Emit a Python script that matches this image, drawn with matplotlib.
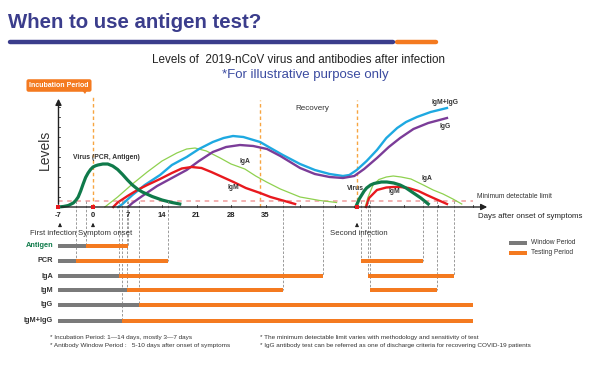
import numpy as np
import matplotlib.pyplot as plt

plt.rcParams['font.family'] = ['Liberation Sans', 'DejaVu Sans']

# colours
NAVY = '#3b3d8c'
ORANGE = '#f47a20'
GRAY = '#7a7a7a'
VIRUS = '#0f7a4a'
LGREEN = '#8fd14f'
BLUE = '#1ea9e1'
PURPLE = '#7b3c98'
RED = '#e8191e'
DASH_OR = '#f7a541'

# ---- curves (days after onset, arbitrary level) ----
virus1_d = [-7, -6, -5, -4, -3.5, -3, -2.5, -2, -1.5, -1, -0.5, 0, 0.5, 1, 2, 3, 4, 5, 6, 7, 8, 9, 10,
            12, 14, 16, 17.6]
virus1_l = [0, 0.05, 0.15, 0.4, 0.65, 1.0, 1.6, 2.3, 2.95, 3.4, 3.75, 4.0, 4.12, 4.2, 4.3, 4.3, 4.1, 3.75,
            3.25, 2.7, 2.2, 1.8, 1.5, 1.05, 0.7, 0.45, 0.3]

iga1_d = [2.4, 5, 8, 11, 14, 17, 19, 20.7, 23, 25.8, 28, 30.8, 33, 35.2, 38, 42, 46, 49.4]
iga1_l = [0, 1.0, 2.3, 3.5, 4.6, 5.4, 5.8, 5.9, 5.6, 4.9, 4.3, 3.8, 3.1, 2.5, 1.8, 1.0, 0.65, 0.45]

igmg_d = [5.1, 6, 8, 10.5, 13.6, 16, 19, 21.5, 24.3, 26.5, 28.4, 30.5, 33.9, 36, 38.5, 42, 45, 48, 50.7,
          52, 53.5, 55.5, 57.6, 59.5, 61.7, 63.5, 65.7, 68.5, 71.8]
igmg_l = [0, 0.3, 1.2, 2.2, 3.2, 4.2, 5.0, 5.8, 6.5, 6.9, 7.1, 7.0, 6.5, 5.9, 5.2, 4.3, 3.7, 3.3, 3.1,
          3.2, 3.7, 4.6, 5.7, 6.9, 7.9, 8.5, 9.0, 9.5, 9.9]

igg_d = [7.1, 8, 10, 13, 16, 19, 21.5, 24.3, 27, 29.8, 32.5, 35.3, 38, 42, 45, 48, 50.7, 53, 55, 57.6,
         60, 62.3, 65, 68, 71.8]
igg_l = [0, 0.4, 1.1, 2.1, 2.9, 3.7, 4.6, 5.5, 6.0, 6.2, 6.1, 5.8, 5.1, 3.9, 3.3, 3.0, 2.9, 3.1, 3.8, 4.9,
         6.0, 6.9, 7.8, 8.4, 8.9]

igm1_d = [4.1, 5, 7, 9, 11, 13.6, 16, 18, 20, 22, 24, 25.8, 28.5, 31, 33.9, 36, 38.5, 41]
igm1_l = [0, 0.45, 1.1, 1.7, 2.2, 2.8, 3.4, 3.85, 4.0, 3.9, 3.5, 3.1, 2.5, 1.9, 1.4, 1.0, 0.65, 0.3]

virus2_d = [53.3, 54, 55, 55.5, 56.3, 57, 58.5, 59.6, 61, 62.3, 63.5, 65, 66.5, 68]
virus2_l = [0, 0.8, 1.6, 1.9, 2.2, 2.35, 2.5, 2.5, 2.4, 2.2, 1.9, 1.4, 0.9, 0.3]

iga2_d = [55.2, 55.8, 56.8, 58, 59.5, 60.9, 62.5, 64.5, 67, 69, 71, 73, 74.8]
iga2_l = [0, 1.0, 2.2, 2.75, 3.0, 3.1, 3.0, 2.8, 2.2, 1.7, 1.3, 0.8, 0.3]

igm2_d = [55.4, 56, 57.6, 59.5, 61, 62.3, 64, 66, 67.7, 69.5, 71.8]
igm2_l = [0, 0.9, 1.7, 1.95, 2.0, 2.0, 1.9, 1.6, 1.2, 0.8, 0.3]

detect_limit = 0.6
infection_days = [-7, 0, 53.5]
phase_lines = [0, 33.9, 53.5]
tick_days = list(range(-7, 78, 7))
tick_labels = [-7, 0, 7, 14, 21, 28, 35]

# ---- test windows ----
rows = ['Antigen', 'PCR', 'IgA', 'IgM', 'IgG', 'IgM+IgG']
window_end = [-1.4, -3.4, 5.3, 6.8, 9.3, 5.9]
test_spans = {
    'Antigen': [(-1.4, 7.2)],
    'PCR': [(-3.4, 15.3), (54.4, 67.0)],
    'IgA': [(5.3, 46.6), (55.7, 73.2)],
    'IgM': [(6.8, 38.5), (56.1, 69.8)],
    'IgG': [(9.3, 77.0)],
    'IgM+IgG': [(5.9, 77.0)],
}
guide_days = [-3.4, -1.4, 5.3, 5.9, 6.8, 7.2, 9.3, 15.3, 38.5, 46.6, 54.4, 55.7, 56.1, 67.0, 69.8, 73.2]
guide_rows = ['PCR', 'Antigen', 'IgA', 'IgM+IgG', 'IgM', 'Antigen', 'IgG', 'PCR', 'IgM', 'IgA',
              'PCR', 'IgA', 'IgM', 'PCR', 'IgM', 'IgA']


# pixel helpers for placing text
def dx(px):
    return (px - 93) / 4.93


def ly(py):
    return (207 - py) / 10


row_y = dict(zip(rows, [ly(p) for p in [246, 261, 276, 290, 305, 321]]))

fig = plt.figure(figsize=(6.07, 3.68), dpi=100)
ax = fig.add_axes([0, 0, 1, 1])
ax.set_xlim(dx(0), dx(607))
ax.set_ylim(ly(368), ly(0))
ax.axis('off')

# title
fig.text(8 / 607, 1 - 22 / 368, 'When to use antigen test?', fontsize=14.7, fontweight='bold',
         color=NAVY, va='center', ha='left')
fig.add_artist(plt.Line2D([397 / 607, 436 / 607], [1 - 42 / 368] * 2, color=ORANGE, lw=3.2,
                          solid_capstyle='round'))
fig.add_artist(plt.Line2D([10 / 607, 393 / 607], [1 - 42 / 368] * 2, color=NAVY, lw=3.2,
                          solid_capstyle='round'))

fig.text(298 / 607, 1 - 60 / 368, 'Levels of  2019-nCoV virus and antibodies after infection',
         fontsize=8.4, color='#222222', ha='center', va='center')
fig.text(305 / 607, 1 - 75 / 368, '*For illustrative purpose only', fontsize=9.5, color='#3b4ba0',
         ha='center', va='center')

# incubation tag
ax.text(dx(59), ly(85.5), 'Incubation Period', fontsize=5, fontweight='bold', color='white',
        ha='center', va='center',
        bbox=dict(boxstyle='round,pad=0.4,rounding_size=0.3', fc=ORANGE, ec='none'))
ax.fill([dx(81), dx(88), dx(85)], [ly(89), ly(89), ly(94)], color=ORANGE, lw=0)

# phase lines
for d, top in zip(phase_lines, [95, 100, 100]):
    ax.plot([d, d], [0, ly(top)], color=DASH_OR, lw=1, ls=(0, (2.5, 2)))

# detection limit
ax.plot([-7, 77], [detect_limit] * 2, color='#f09c9c', lw=1.1, ls=(0, (3, 3)))

# curves
ax.plot(iga1_d, iga1_l, color=LGREEN, lw=0.9)
ax.plot(iga2_d, iga2_l, color=LGREEN, lw=0.9)
ax.plot(igmg_d, igmg_l, color=BLUE, lw=1.7)
ax.plot(igg_d, igg_l, color=PURPLE, lw=1.7)
ax.plot(igm1_d, igm1_l, color=RED, lw=1.7)
ax.plot(igm2_d, igm2_l, color=RED, lw=1.7)
ax.plot(virus1_d, virus1_l, color=VIRUS, lw=2.3)
ax.plot(virus2_d, virus2_l, color=VIRUS, lw=2.3)
ax.scatter(infection_days, [0] * 3, s=7, marker='s', color=RED, zorder=6, lw=0)

# axes with arrows
ax.annotate('', xy=(dx(490), 0), xytext=(-7, 0),
            arrowprops=dict(arrowstyle='-|>', color='#222222', lw=1, mutation_scale=9))
ax.annotate('', xy=(-7, ly(96)), xytext=(-7, 0),
            arrowprops=dict(arrowstyle='-|>', color='#222222', lw=1, mutation_scale=9))
for t in tick_days:
    ax.plot([t, t], [0, 0.2], color='#333333', lw=0.6)
for t in tick_labels:
    ax.text(t, ly(216), str(t), fontsize=5.5, fontweight='bold', ha='center', va='center',
            color='#222222')
for lv in range(1, 11):
    ax.plot([-7, -6.6], [lv, lv], color='#333333', lw=0.6)

ax.text(dx(45), ly(150), 'Levels', rotation=90, fontsize=10, ha='center', va='center',
        color='#333333')
ax.text(dx(478), ly(217), 'Days after onset of symptoms', fontsize=5.7, ha='left', va='center',
        color='#222222')
ax.text(dx(477), ly(197), 'Minimum detectable limit', fontsize=4.9, ha='left', va='center',
        color='#333333')

# curve labels
lab = dict(fontsize=4.9, fontweight='bold', ha='center', va='center', color='#333333')
ax.text(dx(106), ly(158), 'Virus (PCR, Antigen)', **lab)
ax.text(dx(245), ly(162), 'IgA', **lab)
ax.text(dx(233), ly(188), 'IgM', **lab)
ax.text(dx(445), ly(103), 'IgM+IgG', **lab)
ax.text(dx(445), ly(127), 'IgG', **lab)
ax.text(dx(427), ly(179), 'IgA', **lab)
ax.text(dx(394), ly(192), 'IgM', **lab)
ax.text(dx(355), ly(189), 'Virus', **lab)
ax.text(dx(312), ly(109), 'Recovery', fontsize=5.8, ha='center', va='center', color='#333333')

# infection markers
for px, txt, x0 in [(60, 'First infection', 53), (93, 'Symptom onset', 105), (357, 'Second infection', 359)]:
    ax.annotate('', xy=(dx(px), ly(220)), xytext=(dx(px), ly(229)),
                arrowprops=dict(arrowstyle='-|>', color='#222222', lw=0.7, mutation_scale=5))
    ax.text(dx(x0), ly(234), txt, fontsize=5.6, ha='center', va='center', color='#333333')

# guide lines
for d, r in zip(guide_days, guide_rows):
    ax.plot([d, d], [detect_limit, row_y[r]], color='#8a8a8a', lw=0.6, ls=(0, (3, 2)))

# test bars
for r, we in zip(rows, window_end):
    y = row_y[r]
    ax.barh(y, we + 7, left=-7, height=0.4, color=GRAY, zorder=3)
    for a, b in test_spans[r]:
        ax.barh(y, b - a, left=a, height=0.42, color=ORANGE, zorder=3)
    ax.text(dx(53), y, r, fontsize=5.3, fontweight='bold', ha='right', va='center',
            color=VIRUS if r == 'Antigen' else '#333333')

# legend
ax.barh(ly(243), dx(527) - dx(509), left=dx(509), height=0.4, color=GRAY)
ax.barh(ly(253), dx(527) - dx(509), left=dx(509), height=0.4, color=ORANGE)
ax.text(dx(531), ly(243), 'Window Period', fontsize=4.8, va='center', color='#333333')
ax.text(dx(531), ly(253), 'Testing Period', fontsize=4.8, va='center', color='#333333')

# footnotes
fn = dict(fontsize=4.6, va='center', ha='left', color='#333333')
ax.text(dx(50), ly(337), '* Incubation Period: 1\u201414 days, mostly 3\u20147 days', **fn)
ax.text(dx(50), ly(345), '* Antibody Window Period :   5-10 days after onset of symptoms', **fn)
ax.text(dx(260), ly(337), '* The minimum detectable limit varies with methodology and sensitivity of test', **fn)
ax.text(dx(260), ly(345), '* IgG antibody test can be referred as one of discharge criteria for recovering COVID-19 patients', **fn)

fig.savefig('out.png', dpi=100)
